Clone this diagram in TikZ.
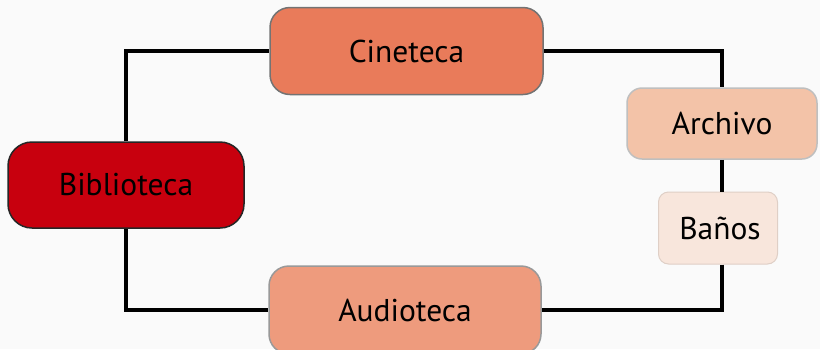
\documentclass[tikz,border=0pt]{standalone}
\usepackage{fontspec}
\setmainfont{PT Sans}
\definecolor{bg}{RGB}{250,250,250}
\definecolor{cbib}{RGB}{200,0,14}
\definecolor{ccine}{RGB}{233,123,90}
\definecolor{caud}{RGB}{238,155,125}
\definecolor{carch}{RGB}{243,195,168}
\definecolor{cban}{RGB}{248,230,220}
\begin{document}
\begin{tikzpicture}[x=1pt,y=-1pt,
  box/.style={rectangle, inner sep=0pt, line width=1.5pt, font=\fontsize{31.5}{36}\selectfont, text=black},
  link/.style={line width=3.5pt, black}]
\fill[bg] (0,0) rectangle (820,349);
\useasboundingbox (0,0) rectangle (820,349);
\node[box, draw=black!85, fill=cbib, rounded corners=24pt, minimum width=236pt, minimum height=86pt] (bib) at (126,185) {Biblioteca};
\node[box, draw=black!55, fill=ccine, rounded corners=20pt, minimum width=273pt, minimum height=87pt] (cine) at (406.5,51) {Cineteca};
\node[box, draw=black!40, fill=caud, rounded corners=20pt, minimum width=272pt, minimum height=88pt] (aud) at (405,310) {Audioteca};
\node[box, draw=black!25, fill=carch, rounded corners=15pt, minimum width=190pt, minimum height=71pt] (arch) at (722,123.5) {Archivo};
\node[box, draw=cban!90!black, line width=1pt, fill=cban, rounded corners=10pt, minimum width=119pt, minimum height=72pt] (bano) at (718,228) {\hspace*{4pt}Baños};
\draw[link] (bib.north) |- (cine.west);
\draw[link] (bib.south) |- (aud.west);
\draw[link] (cine.east) -| (arch.north);
\draw[link] (arch.south) -- (arch.south |- bano.north);
\draw[link] (arch.south |- bano.south) |- (aud.east);
\end{tikzpicture}
\end{document}
